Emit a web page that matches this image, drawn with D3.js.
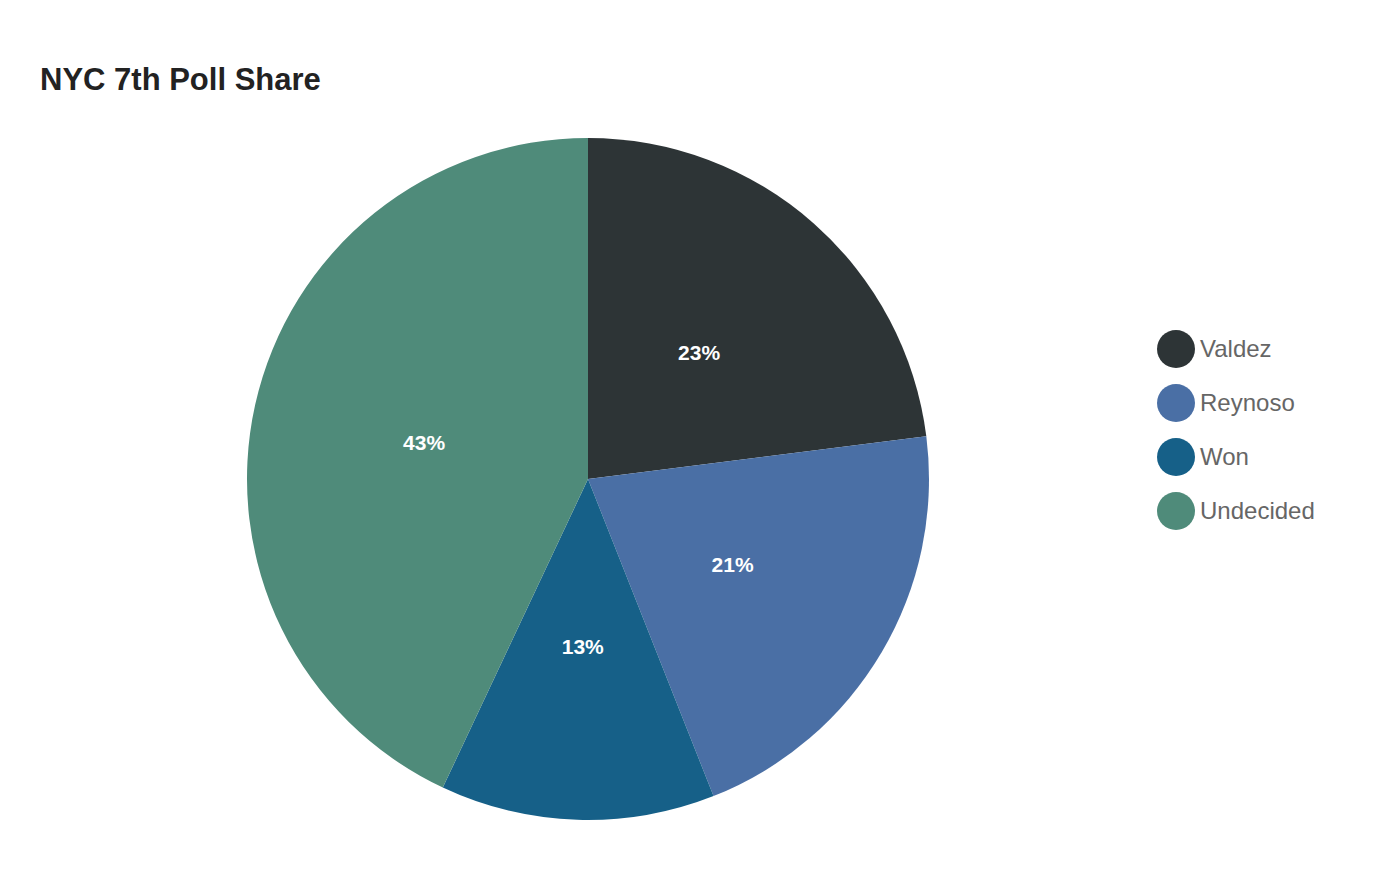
<!DOCTYPE html>
<html>
<head>
<meta charset="utf-8">
<script src="https://cdn.jsdelivr.net/npm/d3@7"></script>
<style>
  body { margin: 0; background: #fff; font-family: "Liberation Sans", Arial, sans-serif; }
</style>
</head>
<body>
<svg id="chart" width="1400" height="880"></svg>
<script>
var categories = ["Valdez", "Reynoso", "Won", "Undecided"];
var shares = [23, 21, 13, 43];
var colors = ["#2d3436", "#4a6fa5", "#166088", "#4f8b7a"];

var svg = d3.select("#chart");
var cx = 588, cy = 479, radius = 341;

svg.append("text")
    .attr("x", 40).attr("y", 90)
    .style("font-size", "31px").style("font-weight", "bold").style("fill", "#222")
    .text("NYC 7th Poll Share");

var color = d3.scaleOrdinal().domain(categories).range(colors);
var data = categories.map(function(c, i) { return { name: c, value: shares[i] }; });

var pie = d3.pie().value(function(d) { return d.value; }).sort(null);
var arc = d3.arc().innerRadius(0).outerRadius(radius);
var labelArc = d3.arc().innerRadius(168).outerRadius(168);

var g = svg.append("g").attr("transform", "translate(" + cx + "," + cy + ")");
var slices = g.selectAll("g.slice").data(pie(data)).enter().append("g").attr("class", "slice");

slices.append("path")
    .attr("d", arc)
    .style("fill", function(d) { return color(d.data.name); });

slices.append("text")
    .attr("transform", function(d) { return "translate(" + labelArc.centroid(d) + ")"; })
    .attr("text-anchor", "middle").attr("dy", "0.35em")
    .style("font-size", "21px").style("font-weight", "bold").style("fill", "#fff")
    .text(function(d) { return d.data.value + "%"; });

var legend = svg.selectAll("g.legend").data(categories).enter().append("g")
    .attr("class", "legend")
    .attr("transform", function(d, i) { return "translate(1176," + (349 + i * 54) + ")"; });

legend.append("circle").attr("r", 19).style("fill", function(d) { return color(d); });
legend.append("text")
    .attr("x", 24).attr("dy", "0.35em")
    .style("font-size", "24px").style("fill", "#666")
    .text(function(d) { return d; });
</script>
</body>
</html>
